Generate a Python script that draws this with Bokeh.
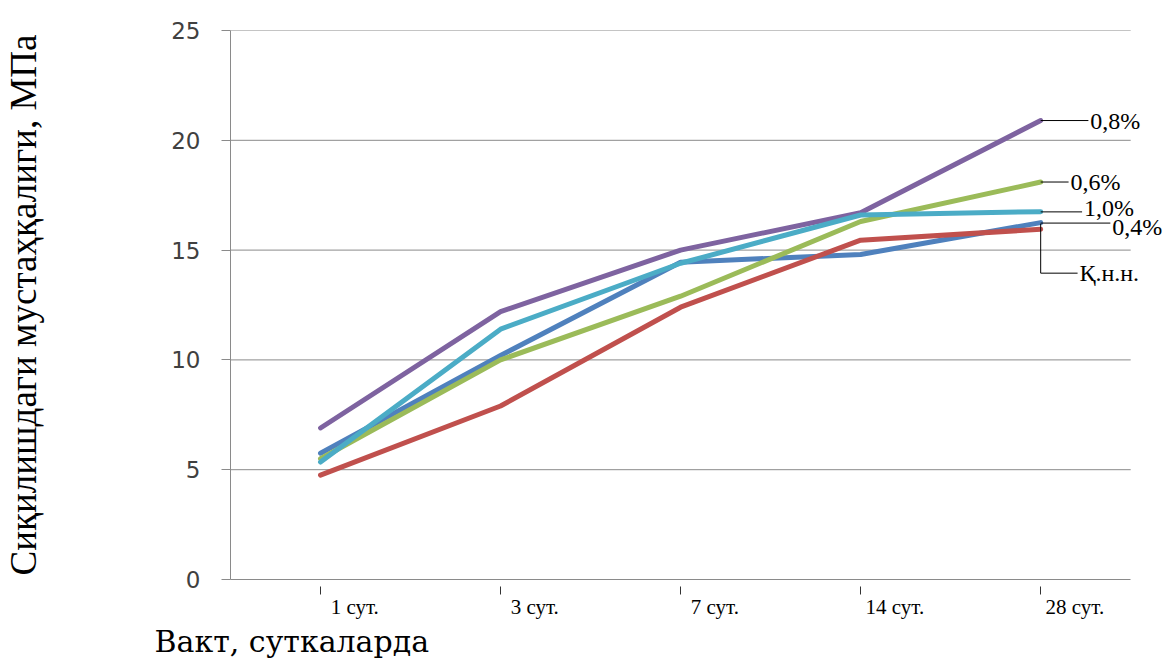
from bokeh.plotting import figure
from bokeh.models import Range1d, FixedTicker, Label, Title
from bokeh.embed import file_html
from bokeh.resources import INLINE

# ---- data ----
categories = ["1 сут.", "3 сут.", "7 сут.", "14 сут.", "28 сут."]
s_04 = [5.75, 10.2, 14.45, 14.8, 16.25]
s_knn = [4.75, 7.9, 12.4, 15.45, 15.95]
s_06 = [5.5, 10.0, 12.9, 16.3, 18.1]
s_08 = [6.9, 12.2, 15.0, 16.7, 20.9]
s_10 = [5.35, 11.4, 14.4, 16.6, 16.75]
series_names = ["0,4%", "Қ.н.н.", "0,6%", "0,8%", "1,0%"]
y_ticks = [0, 5, 10, 15, 20, 25]

series = [s_04, s_knn, s_06, s_08, s_10]
colors = ["#4F81BD", "#C0504D", "#9BBB59", "#7E63A0", "#4BACC6"]

xs = list(range(len(categories)))
n = len(categories)

# layout: plot area 225..1130 px (905 px for 5 categories); frame extends further right
# so that the end labels are not clipped
W, H = 1168, 658
left, top, bottom = 225, 30, 78
cat_px = 905 / n
x_end = -0.5 + (W - left) / cat_px

p = figure(width=W, height=H, output_backend="svg", toolbar_location=None,
           x_range=Range1d(-0.5, x_end), y_range=Range1d(0, 25),
           min_border_left=left, min_border_right=0, min_border_top=top,
           min_border_bottom=bottom)
p.outline_line_color = None
p.background_fill_color = "white"
p.xgrid.grid_line_color = None
p.ygrid.grid_line_color = None

# horizontal gridlines limited to the plot area
grid_y = y_ticks[1:]
p.segment([-0.5] * len(grid_y), grid_y, [n - 0.5] * len(grid_y), grid_y,
          line_color="#8a8a8a", line_width=1)

for ys, c in zip(series, colors):
    p.line(xs, ys, line_color=c, line_width=5, line_cap="round", line_join="round")

# y axis
p.yaxis.ticker = FixedTicker(ticks=y_ticks)
p.yaxis.axis_line_color = "#8a8a8a"
p.yaxis.major_tick_line_color = "#8a8a8a"
p.yaxis.major_tick_in = 0
p.yaxis.major_tick_out = 9
p.yaxis.minor_tick_line_color = None
p.yaxis.major_label_text_font = "DejaVu Sans"
p.yaxis.major_label_text_font_size = "23px"
p.yaxis.major_label_text_color = "#404040"
p.yaxis.major_label_standoff = 21
p.yaxis.axis_label = "Сиқилишдаги мустаҳқалиги, МПа"
p.yaxis.axis_label_text_font = "Liberation Serif"
p.yaxis.axis_label_text_font_size = "37px"
p.yaxis.axis_label_text_font_style = "normal"
p.yaxis.axis_label_text_color = "black"
p.yaxis.axis_label_standoff = 124

# x axis: labels sit just right of the small tick marks at the category positions
label_shift = 0.19
shifted = [x + label_shift for x in xs]
p.xaxis.bounds = (-0.5, n - 0.5)
p.xaxis.ticker = FixedTicker(ticks=shifted, minor_ticks=xs)
p.xaxis.major_label_overrides = {s: c for s, c in zip(shifted, categories)}
p.xaxis.axis_line_color = "#8a8a8a"
p.xaxis.major_tick_line_color = None
p.xaxis.major_tick_in = 0
p.xaxis.major_tick_out = 10
p.xaxis.minor_tick_line_color = "#333333"
p.xaxis.minor_tick_in = -7
p.xaxis.minor_tick_out = 15
p.xaxis.major_label_standoff = 0
p.xaxis.major_label_text_font = "Liberation Serif"
p.xaxis.major_label_text_font_size = "21px"
p.xaxis.major_label_text_color = "black"

# x title
p.add_layout(Title(text="Вакт, суткаларда", align="left", offset=-76, standoff=0,
                   text_font="DejaVu Serif", text_font_size="30px",
                   text_font_style="normal", text_color="black"), "below")

# leader lines and end labels
last = n - 1
lead_dx = [0.387, 0.205, 0.155, 0.265, 0.23]
label_y = [16.05, 13.95, 18.1, 20.9, 16.9]
lead_y = [16.23, 13.95, 18.1, 20.9, 16.74]
for name, dx, ly, ldy in zip(series_names, lead_dx, label_y, lead_y):
    if name == "Қ.н.н.":
        p.segment([last], [16.2], [last], [ldy], line_color="black", line_width=1)
    p.segment([last], [ldy], [last + dx], [ldy], line_color="black", line_width=1)
    p.add_layout(Label(x=last + dx + 0.01, y=ly, text=name, text_font="Liberation Serif",
                       text_font_size="24px", text_baseline="middle", text_align="left",
                       text_color="black"))

open("out.html", "w").write(file_html(p, INLINE))
